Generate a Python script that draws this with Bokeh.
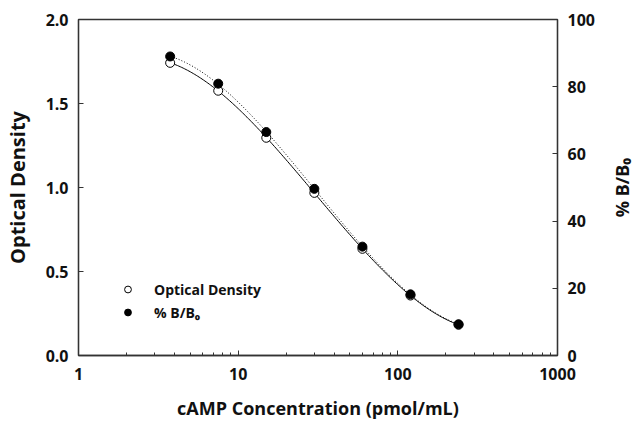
import numpy as np
from bokeh.plotting import figure
from bokeh.models import (LinearAxis, Range1d, FixedTicker, PrintfTickFormatter,
                          Legend, LegendItem, Label)
from bokeh.embed import file_html
from bokeh.resources import INLINE

# ---- data ----
conc = [3.75, 7.5, 15, 30, 60, 120, 240]             # pmol/mL
optical_density = [1.742, 1.576, 1.296, 0.968, 0.635, 0.357, 0.183]
pct_b_b0 = [89.0, 80.9, 66.5, 49.6, 32.4, 18.2, 9.3]

x_ticks = [1, 10, 100, 1000]
x_minor = [2, 3, 4, 5, 6, 7, 8, 9, 20, 30, 40, 50, 60, 70, 80, 90,
           200, 300, 400, 500, 600, 700, 800, 900]
y_ticks = [0.0, 0.5, 1.0, 1.5, 2.0]
y2_ticks = [0, 20, 40, 60, 80, 100]

x_title = "cAMP Concentration (pmol/mL)"
y_title = "Optical Density"
y2_title = "% B/B\u2080"

FONT = "Open Sans"
AX = "#333333"
TXT = "#111111"

p = figure(width=636, height=422, x_axis_type="log",
           x_range=Range1d(1, 1000), y_range=Range1d(0, 2.0),
           output_backend="svg", toolbar_location=None,
           min_border_left=77, min_border_right=79,
           min_border_top=19, min_border_bottom=67)
p.extra_y_ranges = {"pct": Range1d(0, 100)}
p.grid.visible = False
p.outline_line_color = AX
p.outline_line_width = 1.3
p.background_fill_color = "white"
p.border_fill_color = "white"

# fitted curves (smooth fit in log-concentration)
lx = np.log10(conc)
xs = np.linspace(lx.min(), lx.max(), 200)
od_fit = np.polyval(np.polyfit(lx, optical_density, 3), xs)
pc_fit = np.polyval(np.polyfit(lx, pct_b_b0, 3), xs)
p.line(10 ** xs, od_fit, line_color="black", line_width=1)
p.line(10 ** xs, pc_fit, line_color="black", line_width=1,
       line_dash="1 2", y_range_name="pct")

r_od = p.scatter(conc, optical_density, marker="circle", size=9,
                 fill_color="white", line_color="black", line_width=1)
r_pc = p.scatter(conc, pct_b_b0, marker="circle", size=9,
                 fill_color="black", line_color="black", y_range_name="pct")

def style(ax, title, size, standoff):
    ax.axis_line_color = AX
    ax.axis_line_width = 1.3
    ax.major_tick_line_color = AX
    ax.minor_tick_line_color = AX
    ax.major_tick_in = 5
    ax.major_tick_out = 0
    ax.minor_tick_in = 3
    ax.minor_tick_out = 0
    ax.major_label_text_font = FONT
    ax.major_label_text_font_style = "bold"
    ax.major_label_text_font_size = "16px"
    ax.major_label_text_color = TXT
    if title:
        ax.axis_label = title
        ax.axis_label_text_font = FONT
        ax.axis_label_text_font_style = "bold"
        ax.axis_label_text_font_size = size
        ax.axis_label_text_color = TXT
        ax.axis_label_standoff = standoff

xa = p.xaxis[0]
xa.ticker = FixedTicker(ticks=x_ticks, minor_ticks=x_minor)
xa.major_label_overrides = {t: str(t) for t in x_ticks}
xa.major_label_standoff = 12
style(xa, x_title, "18px", 13)

ya = p.yaxis[0]
ya.ticker = FixedTicker(ticks=y_ticks, minor_ticks=[])
ya.formatter = PrintfTickFormatter(format="%.1f")
ya.major_label_standoff = 10
style(ya, y_title, "20px", 12)

ya2 = LinearAxis(y_range_name="pct")
ya2.ticker = FixedTicker(ticks=y2_ticks, minor_ticks=[])
ya2.major_label_standoff = 10
style(ya2, None, None, None)
p.add_layout(ya2, "right")

# right-hand title, reading bottom-to-top, in the right side panel
p.add_layout(Label(x=24, y=168, x_units="screen", y_units="screen",
                   text=y2_title, angle=np.pi / 2, text_font=FONT,
                   text_font_style="bold", text_font_size="18px",
                   text_color=TXT, text_align="center",
                   text_baseline="middle"), "right")

legend = Legend(items=[LegendItem(label="Optical Density", renderers=[r_od]),
                       LegendItem(label=y2_title, renderers=[r_pc])],
                location=(41, 32), margin=0, padding=0,
                glyph_width=17, glyph_height=22, spacing=1,
                label_standoff=18, border_line_color=None,
                background_fill_alpha=0,
                label_text_font=FONT, label_text_font_style="bold",
                label_text_font_size="14px", label_text_color=TXT)
p.add_layout(legend)

open("out.html", "w").write(file_html(p, INLINE))
